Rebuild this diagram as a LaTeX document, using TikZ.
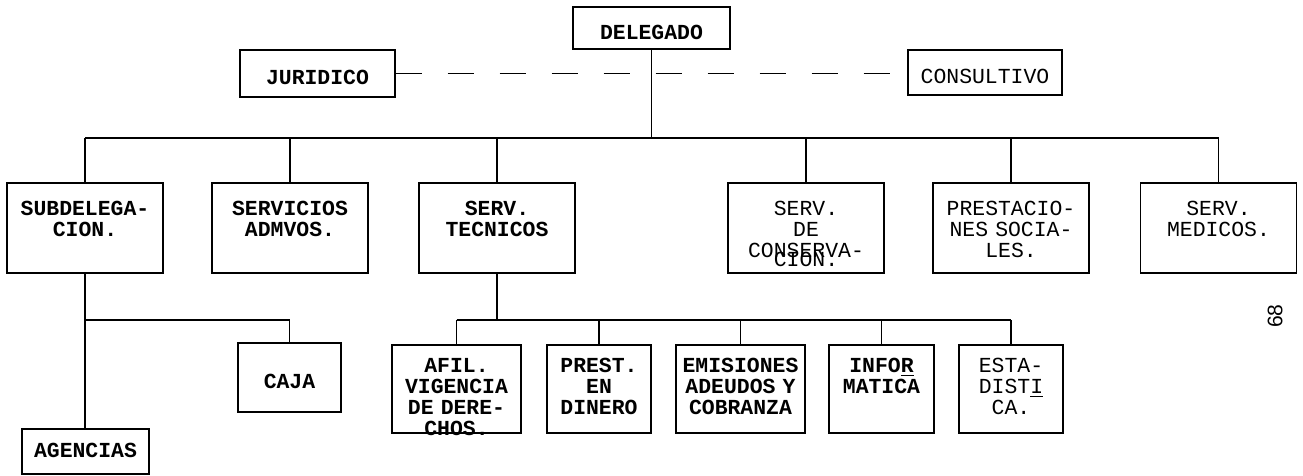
\documentclass[tikz,border=0pt]{standalone}
\usepackage{fontspec}
\newfontfamily\typefont{Liberation Mono}
\newfontfamily\pagefont{Liberation Sans}

\tikzset{
  chart/.style={
    x=0.02cm, y=-0.02cm,
    line width=0.75pt,
    every node/.style={draw, line width=0.75pt, inner sep=0pt,
        font=\typefont\bfseries\fontsize{12.2pt}{12pt}\selectfont},
    officebox/.style={
        minimum width=2.54cm,
        minimum height=0.9cm,
        text height=0.46cm,
        text depth=0pt,
    },
    deptbox/.style={
        minimum width=3.12cm,
        text width=3cm,
        align=center,
        text height=0.65cm,
        text depth=1.15cm,
    },
    secbox/.style={
        minimum width=##1,
        text width=##1-0.08cm,
        align=center,
        text height=0.55cm,
        text depth=1.21cm,
    },
    lighttext/.style={font=\typefont\fontsize{12.2pt}{12pt}\selectfont},
    staffline/.style={dash pattern=on 14.8pt off 14.8pt, line width=0.9pt}
  }
}

\begin{document}
\begin{tikzpicture}[chart]
    \useasboundingbox (0,0) rectangle (1303,476);

    \node[officebox, minimum width=3.14cm, minimum height=0.84cm] (del) at (651.5,28) {DELEGADO};
    \node[officebox, minimum width=3.1cm, minimum height=0.94cm] (jur) at (317.5,73.5) {JURIDICO};
    \node[officebox, lighttext, minimum width=3.08cm] (consul) at (985,72.5) {CONSULTIVO};

    \coordinate (bus) at (0,138);
    \coordinate (low) at (0,320);

    \node[deptbox] (sub) at (85,228) {SUBDELEGA-\\CION.};
    \node[deptbox] (adm) at (290,228) {SERVICIOS\\ADMVOS.};
    \node[deptbox] (tec) at (497,228) {SERV.\\TECNICOS};
    \node[deptbox, lighttext] (conserv) at (806,228) {SERV.\\DE\\CONSERVA-\\[-6.8pt]CION.};
    \node[deptbox, lighttext] (presoc) at (1011,228) {PRESTACIO-\\NES SOCIA-\\LES.};
    \node[deptbox, lighttext] (med) at (1218.5,228) {SERV.\\MEDICOS.};

    \node[officebox, minimum width=2.06cm, minimum height=1.38cm] (caja) at (289.5,377.5) {CAJA};
    \node[officebox, text height=0.25cm] (ag) at (85.5,451.5) {AGENCIAS};

    \node[secbox=2.58cm] (afil) at (456.5,389) {AFIL.\\VIGENCIA\\DE DERE-\\CHOS.};
    \node[secbox=2.08cm] (prest) at (599,389) {PREST.\\EN\\DINERO};
    \node[secbox=2.58cm] (emis) at (740.5,389) {EMISIONES\\ADEUDOS Y\\COBRANZA};
    \node[secbox=2.1cm] (infor) at (881.5,389) {INFO\underline{R}\\MATICA};
    \node[secbox=2.08cm, lighttext] (esta) at (1011,389) {ESTA-\\DIST\underline{I}\\CA.};

    \node[draw=none, rotate=90, font=\pagefont\fontsize{12pt}{12pt}\selectfont] (page) at (1275,316) {68};

    \draw[staffline] (jur.east) -- (jur.east -| consul.west);
    \draw (del.south) -- (del.south |- bus);
    \draw (sub.north |- bus) -- (med.north |- bus);
    \foreach \n in {sub,adm,tec,conserv,presoc,med}
        \draw (\n.north) -- (\n.north |- bus);

    \draw (sub.south) -- (sub.south |- ag.north);
    \draw (sub.south |- low) -| (caja.north);

    \draw (tec.south) -- (tec.south |- low);
    \draw (afil.north |- low) -- (esta.north |- low);
    \foreach \n in {afil,prest,emis,infor,esta}
        \draw (\n.north) -- (\n.north |- low);
\end{tikzpicture}
\end{document}
